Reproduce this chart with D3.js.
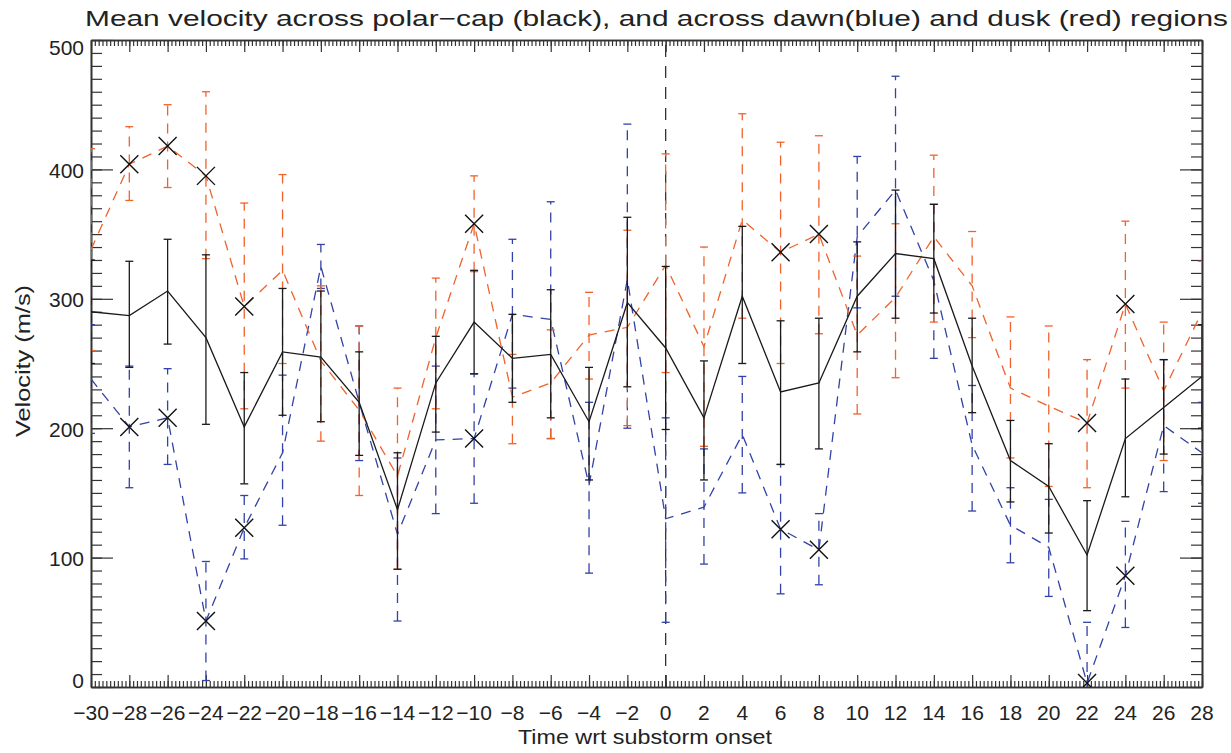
<!DOCTYPE html>
<html><head><meta charset="utf-8">
<script src="https://cdn.jsdelivr.net/npm/d3@7"></script>
<style>
body{margin:0;background:#fff}
svg{display:block}
text{font-family:"Liberation Sans",Arial,sans-serif;fill:#222}
</style>
</head><body>
<svg id="c" width="1231" height="753"></svg>
<script>
// ---------- data ----------
const times = [-30,-28,-26,-24,-22,-20,-18,-16,-14,-12,-10,-8,-6,-4,-2,0,2,4,6,8,10,12,14,16,18,20,22,24,26,28];

// polar cap (black)
const blackMean = [290,287,306,270,201,259,255,220,137,235,282,254,257,205,297,262,208,302,228,235,302,335,331,248,175,155,102,192,216,240];
const blackHi   = [330,329,346,334,243,308,306,259,181,271,322,288,307,247,363,325,252,356,283,285,344,384,373,285,206,188,144,238,253,280];
const blackLo   = [250,247,265,203,157,210,205,179, 91,197,242,220,208,160,232,199,160,250,172,184,259,285,289,212,143,119, 59,147,180,200];

// dawn (blue)
const blueMean  = [238,201,208, 51,123,181,325,220,118,191,192,288,284,156,315,130,139,195,122,106,348,384,314,187,125,108,  3, 86,202,181];
const blueHi    = [280,248,246, 97,148,241,342,279,177,248,242,346,375,220,435,208,184,240,172,134,410,472,373,233,154,145, 50,128,253,220];
const blueLo    = [196,154,172,  5, 99,125,308,175, 51,134,142,231,192, 88,200, 50, 95,150, 72, 79,293,302,254,136, 96, 70,-44, 46,151,142];

// dusk (red)
const redMean   = [338,404,418,395,294,322,252,214,163,270,358,224,235,272,278,326,263,361,336,350,272,301,348,310,231,217,204,296,229,290];
const redHi     = [416,433,450,460,374,396,310,279,231,316,395,257,276,305,353,412,340,443,421,426,333,358,411,352,286,279,253,360,282,329];
const redLo     = [260,376,386,331,215,250,190,148, 91,215,321,188,192,238,202,243,186,285,250,273,211,239,282,270,177,155,154,231,175,250];

// times where the dawn and dusk means are marked with a cross
const markedTimes = [-28,-26,-24,-22,-10,6,8,22,24];

const xTickValues = d3.range(-30, 29, 2);
const yTickValues = [0,100,200,300,400,500];

const titleText = "Mean velocity across polar\u2212cap (black), and across dawn(blue) and dusk (red) regions";
const xTitle = "Time wrt substorm onset";
const yTitle = "Velocity (m/s)";

// ---------- drawing ----------
const svg = d3.select("#c");
const L = 91, R = 1202, T = 40, B = 687;
const x = d3.scaleLinear().domain([-30, 28]).range([L, R]);
const y = d3.scaleLinear().domain([0, 500]).range([B, T]);

const BLUE = "#3242a6", RED = "#f0622c", BLACK = "#1a1a1a", AX = "#333";

svg.append("defs").append("clipPath").attr("id","clip")
  .append("rect").attr("x", L).attr("y", T).attr("width", R-L).attr("height", B-T);

// axes (ticks inward)
const minorX = d3.range(0, 291).map(i => -30 + i*0.2);
const minorY = d3.range(0, 51).map(i => i*10);

function styleAxis(g){
  g.selectAll("path.domain").attr("stroke", AX).attr("stroke-width", 1.6);
  g.selectAll(".tick line").attr("stroke", AX).attr("stroke-width", 1.2);
  g.selectAll(".tick text").remove();
}
svg.append("g").attr("transform",`translate(0,${B})`)
  .call(d3.axisBottom(x).tickValues(minorX).tickSize(-6).tickSizeOuter(0).tickFormat("")).call(styleAxis);
svg.append("g").attr("transform",`translate(0,${B})`)
  .call(d3.axisBottom(x).tickValues(xTickValues).tickSize(-12).tickSizeOuter(0).tickFormat("")).call(styleAxis);
svg.append("g").attr("transform",`translate(0,${T})`)
  .call(d3.axisTop(x).tickValues(minorX).tickSize(-6).tickSizeOuter(0).tickFormat("")).call(styleAxis);
svg.append("g").attr("transform",`translate(0,${T})`)
  .call(d3.axisTop(x).tickValues(xTickValues).tickSize(-12).tickSizeOuter(0).tickFormat("")).call(styleAxis);
svg.append("g").attr("transform",`translate(${L},0)`)
  .call(d3.axisLeft(y).tickValues(minorY).tickSize(-11).tickSizeOuter(0).tickFormat("")).call(styleAxis);
svg.append("g").attr("transform",`translate(${L},0)`)
  .call(d3.axisLeft(y).tickValues(yTickValues).tickSize(-22).tickSizeOuter(0).tickFormat("")).call(styleAxis);
svg.append("g").attr("transform",`translate(${R},0)`)
  .call(d3.axisRight(y).tickValues(minorY).tickSize(-11).tickSizeOuter(0).tickFormat("")).call(styleAxis);
svg.append("g").attr("transform",`translate(${R},0)`)
  .call(d3.axisRight(y).tickValues(yTickValues).tickSize(-22).tickSizeOuter(0).tickFormat("")).call(styleAxis);

// tick labels
const fmt = d => d < 0 ? "\u2212" + Math.abs(d) : String(d);
svg.append("g").selectAll("text").data(xTickValues).join("text")
  .attr("x", d => x(d)).attr("y", 720).attr("text-anchor","middle")
  .style("font-size","21px").text(fmt);
svg.append("g").selectAll("text").data(yTickValues).join("text")
  .attr("x", 84).attr("y", d => Math.min(Math.max(y(d)+8.5, 55), 688)).attr("text-anchor","end")
  .style("font-size","21px").text(fmt);

// titles
svg.append("text").attr("x", 85).attr("y", 26).style("font-size","22px")
  .attr("textLength", 1143).attr("lengthAdjust","spacingAndGlyphs").text(titleText);
svg.append("text").attr("x", 645).attr("y", 744).attr("text-anchor","middle").style("font-size","20px")
  .attr("textLength", 254).attr("lengthAdjust","spacingAndGlyphs").text(xTitle);
svg.append("text").attr("transform","translate(30,361) rotate(-90)").attr("text-anchor","middle").style("font-size","20px")
  .attr("textLength", 152).attr("lengthAdjust","spacingAndGlyphs").text(yTitle);

// data layer
const plot = svg.append("g").attr("clip-path","url(#clip)");

// onset line
plot.append("line").attr("x1", x(0)).attr("x2", x(0)).attr("y1", y(0)).attr("y2", y(500))
  .attr("stroke","#333").attr("stroke-width",1.3).attr("stroke-dasharray","12,9");

function series(mean, hi, lo, color, dashed){
  const pts = times.map((t,i)=>({t, m:mean[i], h:hi[i], l:lo[i]}));
  const g = plot.append("g");
  const dash = dashed ? "10,8" : null;
  g.selectAll("line.eb").data(pts).join("line").attr("class","eb")
    .attr("x1", d=>x(d.t)).attr("x2", d=>x(d.t)).attr("y1", d=>y(d.l)).attr("y2", d=>y(d.h))
    .attr("stroke", color).attr("stroke-width", 1.3).attr("stroke-dasharray", dash);
  const caps = pts.flatMap(d=>[{t:d.t,v:d.h},{t:d.t,v:d.l}]);
  g.selectAll("line.cap").data(caps).join("line").attr("class","cap")
    .attr("x1", d=>x(d.t)-4).attr("x2", d=>x(d.t)+4).attr("y1", d=>y(d.v)).attr("y2", d=>y(d.v))
    .attr("stroke", color).attr("stroke-width", 1.3);
  g.append("path").datum(pts)
    .attr("d", d3.line().x(d=>x(d.t)).y(d=>y(d.m)))
    .attr("fill","none").attr("stroke", color).attr("stroke-width", 1.3).attr("stroke-dasharray", dash);
}
series(blueMean, blueHi, blueLo, BLUE, true);
series(redMean, redHi, redLo, RED, true);
series(blackMean, blackHi, blackLo, BLACK, false);

// crosses
const crossPts = markedTimes.flatMap(t => {
  const i = times.indexOf(t);
  return [{t, v: redMean[i]}, {t, v: blueMean[i]}];
});
const s = 9;
plot.append("g").selectAll("path").data(crossPts).join("path")
  .attr("d", d => { const cx = x(d.t), cy = y(d.v);
    return `M${cx-s},${cy-s}L${cx+s},${cy+s}M${cx-s},${cy+s}L${cx+s},${cy-s}`; })
  .attr("stroke","#111").attr("stroke-width",1.4).attr("fill","none");
</script>
</body></html>
